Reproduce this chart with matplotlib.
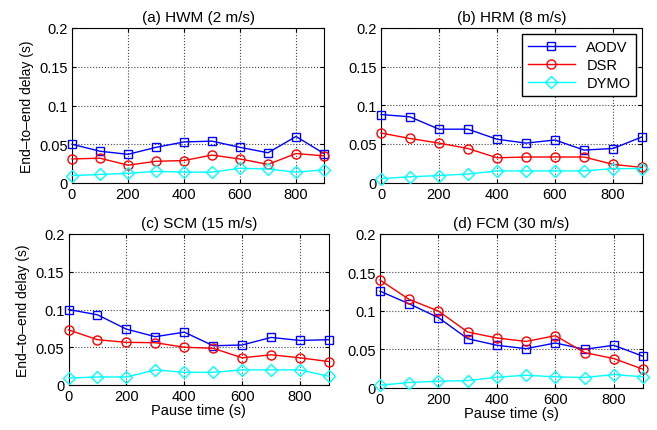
import numpy as np
from matplotlib import pyplot as plt

plt.rcParams['font.family'] = ['Liberation Sans', 'DejaVu Sans']
plt.rcParams['font.size'] = 9.5

pause = [0, 100, 200, 300, 400, 500, 600, 700, 800, 900]
protocols = ['AODV', 'DSR', 'DYMO']
titles = ['(a) HWM (2 m/s)', '(b) HRM (8 m/s)', '(c) SCM (15 m/s)', '(d) FCM (30 m/s)']

# delay values (s), one list per protocol per scenario
hwm_aodv = [0.050, 0.041, 0.037, 0.046, 0.053, 0.054, 0.046, 0.039, 0.060, 0.038]
hwm_dsr = [0.031, 0.032, 0.023, 0.028, 0.029, 0.036, 0.031, 0.024, 0.038, 0.035]
hwm_dymo = [0.0095, 0.011, 0.0125, 0.015, 0.014, 0.014, 0.019, 0.018, 0.014, 0.017]

hrm_aodv = [0.088, 0.085, 0.069, 0.069, 0.056, 0.051, 0.055, 0.042, 0.044, 0.059]
hrm_dsr = [0.064, 0.057, 0.051, 0.044, 0.032, 0.033, 0.033, 0.033, 0.0235, 0.0195]
hrm_dymo = [0.005, 0.0074, 0.009, 0.011, 0.015, 0.015, 0.015, 0.015, 0.018, 0.018]

scm_aodv = [0.100, 0.093, 0.074, 0.064, 0.070, 0.052, 0.053, 0.063, 0.059, 0.060]
scm_dsr = [0.073, 0.060, 0.0565, 0.056, 0.050, 0.0486, 0.036, 0.040, 0.036, 0.031]
scm_dymo = [0.0093, 0.0106, 0.0106, 0.020, 0.0168, 0.0168, 0.020, 0.020, 0.020, 0.0115]

fcm_aodv = [0.1255, 0.109, 0.091, 0.0636, 0.055, 0.0506, 0.058, 0.0498, 0.055, 0.0407]
fcm_dsr = [0.140, 0.1147, 0.0996, 0.0723, 0.0645, 0.060, 0.0675, 0.0455, 0.0377, 0.0238]
fcm_dymo = [0.003, 0.0065, 0.0082, 0.009, 0.0134, 0.016, 0.0139, 0.013, 0.0169, 0.0139]

scenarios = [
    [hwm_aodv, hwm_dsr, hwm_dymo],
    [hrm_aodv, hrm_dsr, hrm_dymo],
    [scm_aodv, scm_dsr, scm_dymo],
    [fcm_aodv, fcm_dsr, fcm_dymo],
]

colors = ['#0000ff', '#ff0000', '#00ffff']
markers = ['s', 'o', 'D']
msizes = [5.5, 6.5, 6]

W, H = 657, 431
# axes boxes in pixels: left, top, right, bottom
boxes = [(72, 29, 324, 184), (381, 29, 642, 183.5), (68.5, 235, 329, 386), (380, 235, 643, 388.5)]

fig = plt.figure(figsize=(6.57, 4.31), dpi=100)

for k, (series, box) in enumerate(zip(scenarios, boxes)):
    l, t, r, b = box
    ax = fig.add_axes([l / W, 1 - b / H, (r - l) / W, (b - t) / H])
    for vals, c, m, ms, name in zip(series, colors, markers, msizes, protocols):
        ax.plot(pause, vals, color=c, marker=m, markersize=ms, markerfacecolor='none',
                markeredgewidth=1, lw=1, label=name, clip_on=False, zorder=3)
    ax.set_xlim(0, 900)
    ax.set_ylim(0, 0.2)
    ax.set_xticks([0, 200, 400, 600, 800])
    ax.set_yticks([0, 0.05, 0.1, 0.15, 0.2])
    ax.set_yticklabels(['0', '0.05', '0.1', '0.15', '0.2'])
    ax.grid(True, linestyle=':', color='#444444', lw=0.8)
    ax.tick_params(direction='in', top=True, right=True, length=3, labelsize=10.5, pad=3)
    ax.set_title(titles[k], fontsize=11, pad=5)
    if k % 2 == 0:
        ax.set_ylabel('End\u2013to\u2013end delay (s)', fontsize=10)
    if k >= 2:
        ax.set_xlabel('Pause time (s)', fontsize=10.5, labelpad=0)
    if k == 1:
        leg = ax.legend(loc='upper right', fancybox=False, edgecolor='black', framealpha=1,
                        fontsize=10.5, handlelength=3.2, borderaxespad=0.4, labelspacing=0.3)
        leg.get_frame().set_linewidth(1)

plt.savefig('out.png', dpi=100)
